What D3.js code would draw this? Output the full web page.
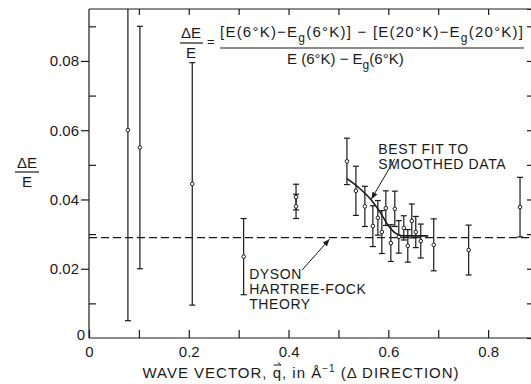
<!DOCTYPE html>
<html>
<head>
<meta charset="utf-8">
<script src="https://cdn.jsdelivr.net/npm/d3@7"></script>
<style>
  body { margin: 0; background: #fff; }
  #container { width: 531px; height: 384px; overflow: hidden; }
  svg text { font-family: "Liberation Sans", Arial, sans-serif; fill: #1a1a1a; }
  .axis path, .axis line { stroke: #1a1a1a; stroke-width: 1.2; }
  .axis text { font-size: 15px; }
</style>
</head>
<body>
<div id="container"></div>
<script>
"use strict";
// wave vector q (1/Angstrom), relative shift dE/E and its error half-width
const qValues = [0.078, 0.102, 0.207, 0.31, 0.415, 0.415, 0.517, 0.535, 0.553, 0.569,
    0.579, 0.587, 0.595, 0.605, 0.613, 0.621, 0.631, 0.639, 0.647, 0.655, 0.665,
    0.691, 0.761, 0.864];
const ratios = [0.060, 0.055, 0.0445, 0.0235, 0.0407, 0.038, 0.051, 0.0425, 0.038, 0.0323,
    0.0347, 0.0306, 0.0375, 0.0274, 0.0373, 0.0292, 0.0318, 0.0266, 0.0338, 0.0306, 0.028,
    0.0269, 0.0254, 0.0378];
const errors = [0.055, 0.035, 0.035, 0.011, 0.0037, 0.0035, 0.0067, 0.0071, 0.0058, 0.0059,
    0.005, 0.0062, 0.005, 0.0053, 0.0051, 0.0047, 0.0035, 0.0047, 0.0049, 0.0045, 0.0049,
    0.0075, 0.0072, 0.0086];

// best fit to smoothed data
const fitQ = [0.517, 0.54, 0.565, 0.585, 0.60, 0.615, 0.63, 0.68];
const fitVals = [0.046, 0.0435, 0.040, 0.036, 0.0325, 0.0302, 0.0295, 0.0295];

// Dyson Hartree-Fock theory level
const theoryVal = 0.029;

const xTicks = [0.1, 0.2, 0.3, 0.4, 0.5, 0.6, 0.7, 0.8];
const xLabels = [0, 0.2, 0.4, 0.6, 0.8];
const yMajor = [0, 0.02, 0.04, 0.06, 0.08];
const yMinor = [0.01, 0.03, 0.05, 0.07, 0.09];

const margin = {top: 9, left: 89, right: -2, bottom: 46};
const W = 531, H = 384;
const width = W - margin.left - margin.right,
    height = H - margin.top - margin.bottom;

const svg = d3.select("#container").append("svg")
    .attr("width", W)
    .attr("height", H);
const g = svg.append("g")
    .attr("transform", `translate(${margin.left}, ${margin.top})`);

const x = d3.scaleLinear().domain([0, 0.89]).range([0, width]);
const y = d3.scaleLinear().domain([0, 0.095]).range([height, 0]);

const numFmt = d => d === 0 ? "0" : d3.format(".2f")(d);

// axes
g.append("g").attr("class", "axis")
    .attr("transform", `translate(0, ${height})`)
    .call(d3.axisBottom(x).tickValues(xTicks.concat([0])).tickSizeInner(-8).tickSizeOuter(0)
        .tickPadding(8).tickFormat(d => xLabels.includes(d) ? (d === 0 ? "0" : d3.format(".1f")(d)) : ""))
    .call(a => a.select(".domain").attr("d", `M0,0H${width}`));

g.append("g").attr("class", "axis")
    .call(d3.axisTop(x).tickValues(xTicks).tickSizeInner(-6).tickSizeOuter(0).tickFormat(""))
    .call(a => a.select(".domain").attr("d", `M0,0H${width}`));

g.append("g").attr("class", "axis")
    .call(d3.axisLeft(y).tickValues(yMajor).tickSize(8).tickPadding(2).tickFormat(numFmt))
    .call(a => a.select(".domain").attr("d", `M0,0V${height}`))
    .call(a => a.selectAll(".tick").filter(d => d === 0).select("line").remove())
    .call(a => a.selectAll(".tick").filter(d => d === 0).select("text")
        .attr("x", -4).attr("dy", "0.1em"));

g.append("g").attr("class", "axis")
    .call(d3.axisLeft(y).tickValues(yMinor).tickSize(-7).tickFormat(""))
    .call(a => a.select(".domain").remove());

g.append("g").attr("class", "axis")
    .attr("transform", `translate(${width}, 0)`)
    .call(d3.axisRight(y).tickValues(yMajor.concat(yMinor)).tickSize(-6).tickFormat(""));

// theory line
g.append("line")
    .attr("x1", 0).attr("x2", width)
    .attr("y1", y(theoryVal)).attr("y2", y(theoryVal))
    .attr("stroke", "#1a1a1a").attr("stroke-width", 1.3)
    .attr("stroke-dasharray", "8,4");

// clip for error bars
svg.append("clipPath").attr("id", "plotClip")
    .append("rect").attr("width", width).attr("height", height);

const pts = qValues.map((q, i) => ({q: q, v: ratios[i], e: errors[i]}));

const bars = g.append("g").attr("clip-path", "url(#plotClip)")
    .attr("stroke", "#1a1a1a").attr("stroke-width", 1.2);

bars.selectAll(".eb").data(pts).enter().append("line")
    .attr("x1", d => x(d.q)).attr("x2", d => x(d.q))
    .attr("y1", d => y(d.v + d.e)).attr("y2", d => y(d.v - d.e));
bars.selectAll(".capTop").data(pts).enter().append("line")
    .attr("x1", d => x(d.q) - 3).attr("x2", d => x(d.q) + 3)
    .attr("y1", d => y(d.v + d.e)).attr("y2", d => y(d.v + d.e));
bars.selectAll(".capBot").data(pts).enter().append("line")
    .attr("x1", d => x(d.q) - 3).attr("x2", d => x(d.q) + 3)
    .attr("y1", d => y(d.v - d.e)).attr("y2", d => y(d.v - d.e));

g.selectAll(".pt").data(pts).enter().append("circle")
    .attr("cx", d => x(d.q)).attr("cy", d => y(d.v))
    .attr("r", 1.8)
    .attr("fill", "#fff").attr("stroke", "#1a1a1a").attr("stroke-width", 1);

// fit curve
g.append("path")
    .datum(fitQ.map((q, i) => [q, fitVals[i]]))
    .attr("fill", "none").attr("stroke", "#1a1a1a").attr("stroke-width", 1.6)
    .attr("d", d3.line().x(d => x(d[0])).y(d => y(d[1])).curve(d3.curveMonotoneX));

// arrows
svg.append("defs").append("marker")
    .attr("id", "arrow").attr("viewBox", "0 0 10 10")
    .attr("refX", 10).attr("refY", 5)
    .attr("markerWidth", 7).attr("markerHeight", 7)
    .attr("orient", "auto")
  .append("path").attr("d", "M0,1L10,5L0,9z").attr("fill", "#1a1a1a");

const arrow = (q1, v1, q2, v2) => g.append("line")
    .attr("x1", x(q1)).attr("y1", y(v1)).attr("x2", x(q2)).attr("y2", y(v2))
    .attr("stroke", "#1a1a1a").attr("stroke-width", 1)
    .attr("marker-end", "url(#arrow)");
arrow(0.613, 0.0517, 0.566, 0.0401);
arrow(0.427, 0.0196, 0.482, 0.0285);

const label = (lines, q, v, dy) => {
    const t = g.append("text").attr("font-size", 14).attr("letter-spacing", 0.6);
    lines.forEach((s, i) => t.append("tspan")
        .attr("x", x(q)).attr("y", y(v) + i * dy).text(s));
};
label(["BEST FIT TO", "SMOOTHED DATA"], 0.58, 0.0532, 15);
label(["DYSON", "HARTREE-FOCK", "THEORY"], 0.321, 0.0171, 15);

// y axis label
const yl = svg.append("g").attr("font-size", 15);
yl.append("text").attr("x", 27).attr("y", 168).attr("text-anchor", "middle").text("ΔE");
yl.append("line").attr("x1", 15).attr("x2", 39).attr("y1", 172).attr("y2", 172)
    .attr("stroke", "#1a1a1a").attr("stroke-width", 1.2);
yl.append("text").attr("x", 27).attr("y", 187).attr("text-anchor", "middle").text("E");

// x axis label, with a vector arrow drawn over the q
const xl = svg.append("text")
    .attr("x", 301).attr("y", 378).attr("text-anchor", "middle")
    .attr("font-size", 15).attr("letter-spacing", 1);
xl.append("tspan").text("WAVE VECTOR, q, in Å");
xl.append("tspan").attr("dy", -6).attr("font-size", 10).text("−1");
xl.append("tspan").attr("dy", 6).text(" (Δ DIRECTION)");
const qIdx = "WAVE VECTOR, ".length;
const qs = xl.node().getStartPositionOfChar(qIdx);
const qe = xl.node().getEndPositionOfChar(qIdx);
svg.append("path")
    .attr("d", `M${qs.x + 1},${qs.y - 13}H${qe.x - 1}M${qe.x - 4},${qs.y - 15.5}L${qe.x - 1},${qs.y - 13}`)
    .attr("fill", "none").attr("stroke", "#1a1a1a").attr("stroke-width", 1);

// formula
const f = svg.append("g").attr("font-size", 15);
f.append("text").attr("x", 191).attr("y", 38).attr("text-anchor", "middle").text("ΔE");
f.append("line").attr("x1", 180).attr("x2", 203).attr("y1", 43).attr("y2", 43)
    .attr("stroke", "#1a1a1a").attr("stroke-width", 1.2);
f.append("text").attr("x", 191).attr("y", 58).attr("text-anchor", "middle").text("E");
f.append("text").attr("x", 207).attr("y", 46).attr("font-size", 13).text("=");

const num = f.append("text").attr("x", 220).attr("y", 37)
    .attr("textLength", 303).attr("lengthAdjust", "spacing");
num.append("tspan").text("[E(6°K)−E");
num.append("tspan").attr("dy", 5).attr("font-size", 12).text("g");
num.append("tspan").attr("dy", -5).text("(6°K)] − [E(20°K)−E");
num.append("tspan").attr("dy", 5).attr("font-size", 12).text("g");
num.append("tspan").attr("dy", -5).text("(20°K)]");
f.append("line").attr("x1", 220).attr("x2", 524).attr("y1", 48).attr("y2", 48)
    .attr("stroke", "#1a1a1a").attr("stroke-width", 1.2);
const den = f.append("text").attr("x", 287).attr("y", 64);
den.append("tspan").text("E (6°K) − E");
den.append("tspan").attr("dy", 5).attr("font-size", 12).text("g");
den.append("tspan").attr("dy", -5).text("(6°K)");
</script>
</body>
</html>
